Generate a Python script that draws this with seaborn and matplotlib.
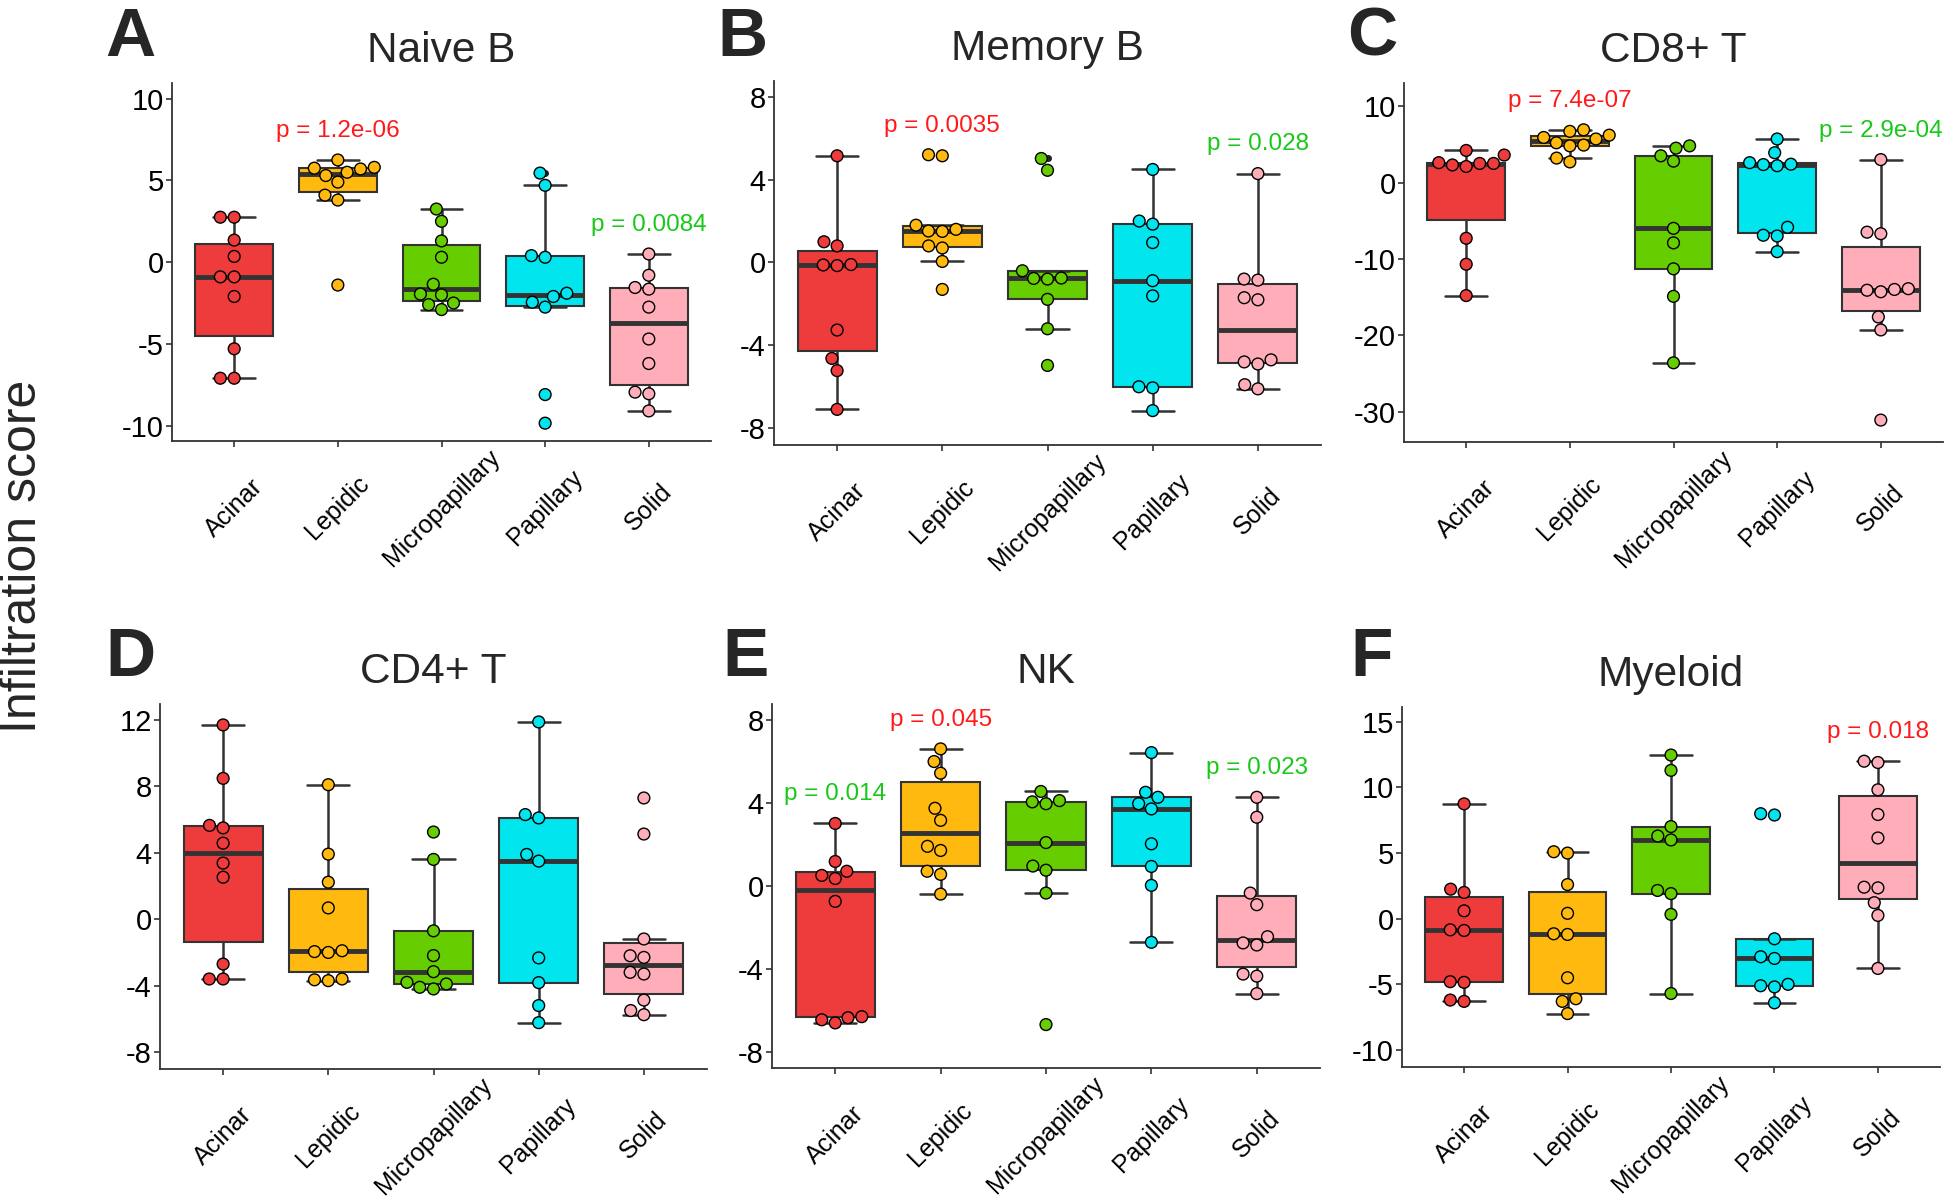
import numpy as np
import pandas as pd
import matplotlib
matplotlib.use("Agg")
import matplotlib.pyplot as plt
import seaborn as sns

# Histological subtypes (x axis of every panel)
subtypes = ["Acinar", "Lepidic", "Micropapillary", "Papillary", "Solid"]
cell_types = ["Naive B", "Memory B", "CD8+ T", "CD4+ T", "NK", "Myeloid"]
panel_letters = ["A", "B", "C", "D", "E", "F"]

# Infiltration scores per subtype (Acinar, Lepidic, Micropapillary, Papillary, Solid)
naive_b = [
    [-7.1, -7.1, -5.3, -2.1, -0.9, -0.9, 0.35, 1.35, 2.75, 2.75],
    [-1.4, 3.8, 4.1, 4.9, 5.3, 5.5, 5.7, 5.75, 5.8, 6.25],
    [-2.9, -2.6, -2.5, -2.0, -1.95, -1.35, 0.3, 1.3, 2.5, 3.25],
    [-9.85, -8.1, -2.75, -2.45, -2.1, -1.9, 0.3, 0.4, 4.7, 5.45],
    [-9.1, -8.05, -7.95, -6.2, -4.7, -2.75, -1.65, -1.55, -0.8, 0.5],
]
memory_b = [
    [-7.09, -5.22, -4.63, -3.26, -0.15, -0.12, -0.1, 0.8, 1.0, 5.15],
    [-1.3, 0.05, 0.7, 0.8, 1.5, 1.52, 1.6, 1.8, 5.15, 5.2],
    [-4.97, -3.2, -1.78, -0.8, -0.77, -0.75, -0.4, 4.45, 5.02],
    [-7.15, -6.05, -6.0, -1.61, -0.88, 0.96, 1.85, 2.0, 4.49],
    [-6.1, -5.9, -4.9, -4.8, -4.7, -1.8, -1.7, -0.85, -0.8, 4.29],
]
cd8_t = [
    [-14.8, -10.7, -7.3, 2.1, 2.3, 2.5, 2.5, 2.6, 3.6, 4.2],
    [2.7, 3.2, 4.8, 4.9, 5.2, 5.7, 5.9, 6.2, 6.7, 6.9],
    [-23.6, -14.9, -11.3, -7.9, -6.0, 2.8, 3.5, 4.5, 4.8],
    [-9.05, -7.0, -6.9, -5.86, 2.2, 2.35, 2.4, 2.6, 3.9, 5.7],
    [-31.1, -19.3, -17.6, -14.3, -14.1, -14.0, -13.9, -6.7, -6.5, 3.0],
]
cd4_t = [
    [-3.6, -3.6, -2.7, 2.53, 3.38, 4.58, 5.5, 5.65, 8.48, 11.7],
    [-3.7, -3.65, -3.6, -2.0, -1.95, -1.9, 0.68, 2.23, 3.92, 8.1],
    [-4.2, -4.1, -3.9, -3.8, -3.16, -2.19, -0.7, 3.6, 5.25],
    [-6.23, -5.2, -3.82, -2.33, 3.5, 3.9, 6.1, 6.3, 11.88],
    [-5.75, -5.5, -4.87, -3.3, -3.2, -2.3, -2.2, -1.19, 5.13, 7.3],
]
nk = [
    [-6.6, -6.45, -6.35, -6.3, -0.75, 0.35, 0.5, 0.7, 1.17, 3.0],
    [-0.4, 0.55, 0.7, 1.7, 1.9, 3.15, 3.73, 5.42, 5.98, 6.59],
    [-6.68, -0.35, 0.75, 0.95, 2.08, 3.95, 4.04, 4.1, 4.54],
    [-2.72, 0.02, 0.93, 2.02, 3.7, 3.95, 4.26, 4.5, 6.41],
    [-5.19, -4.35, -4.25, -2.85, -2.75, -2.45, -0.91, -0.35, 3.3, 4.26],
]
myeloid = [
    [-6.3, -6.2, -4.85, -4.8, -0.9, -0.85, 0.6, 2.0, 2.25, 8.75],
    [-7.23, -6.3, -6.1, -4.5, -1.2, -1.15, 0.41, 2.6, 5.0, 5.1],
    [-5.7, 0.33, 1.91, 2.15, 6.0, 6.3, 7.02, 11.3, 12.47],
    [-6.41, -5.2, -5.11, -5.0, -3.03, -2.9, -1.53, 7.9, 8.0],
    [-3.79, 0.25, 1.22, 2.35, 2.4, 6.15, 7.94, 9.82, 11.9, 12.0],
]
scores = [naive_b, memory_b, cd8_t, cd4_t, nk, myeloid]

# p-value labels: (subtype, text, direction)
naive_b_p = [("Lepidic", "p = 1.2e-06", "up"), ("Solid", "p = 0.0084", "down")]
memory_b_p = [("Lepidic", "p = 0.0035", "up"), ("Solid", "p = 0.028", "down")]
cd8_t_p = [("Lepidic", "p = 7.4e-07", "up"), ("Solid", "p = 2.9e-04", "down")]
cd4_t_p = []
nk_p = [("Acinar", "p = 0.014", "down"), ("Lepidic", "p = 0.045", "up"),
        ("Solid", "p = 0.023", "down")]
myeloid_p = [("Solid", "p = 0.018", "up")]
pvals = [naive_b_p, memory_b_p, cd8_t_p, cd4_t_p, nk_p, myeloid_p]

# axis ranges and ticks
ylims = [(-10.94, 10.96), (-8.81, 8.76), (-33.97, 13.03),
         (-9.02, 12.96), (-8.77, 8.75), (-11.3, 16.13)]
yticks = [[-10, -5, 0, 5, 10], [-8, -4, 0, 4, 8], [-30, -20, -10, 0, 10],
          [-8, -4, 0, 4, 8, 12], [-8, -4, 0, 4, 8], [-10, -5, 0, 5, 10, 15]]

palette = {"Acinar": "#EE3B3B", "Lepidic": "#FFB90F", "Micropapillary": "#66CD00",
           "Papillary": "#00E5EE", "Solid": "#FFAEB9"}
p_colors = {"up": "#FF1A1A", "down": "#19C819"}
line_col = "#333333"

sns.set_theme(style="white")
plt.rcParams["font.family"] = ["Liberation Sans", "DejaVu Sans"]
plt.rcParams["axes.unicode_minus"] = False

W, H = 1946, 1204
fig = plt.figure(figsize=(W / 100, H / 100), dpi=100)

# axes boxes in pixels: left, top, right, bottom
boxes_px = [(172, 83, 711, 441), (774, 81, 1321, 445), (1404, 83, 1943, 442),
            (160, 704, 707, 1069), (772, 704, 1320, 1068), (1402, 707, 1940, 1067)]
letter_px = [(105, 56), (717, 56), (1347, 56), (105, 676), (722, 676), (1350, 676)]

for i in range(6):
    l, t, r, b = boxes_px[i]
    ax = fig.add_axes([l / W, 1 - b / H, (r - l) / W, (b - t) / H])
    vals = scores[i]
    df = pd.DataFrame({
        "subtype": np.repeat(subtypes, [len(v) for v in vals]),
        "score": np.concatenate(vals),
    })
    sns.boxplot(data=df, x="subtype", y="score", hue="subtype", order=subtypes,
                hue_order=subtypes, palette=palette, saturation=1, width=0.75,
                linewidth=1.5, linecolor=line_col, legend=False, ax=ax,
                medianprops=dict(linewidth=3.5, color=line_col),
                whiskerprops=dict(linewidth=1.8, color=line_col),
                capprops=dict(linewidth=1.8, color=line_col),
                flierprops=dict(marker="o", markersize=4, markerfacecolor="#222222",
                                markeredgecolor="#222222"))
    for cont in ax.containers:
        if hasattr(cont, "caps"):
            for cap in cont.caps:
                xd = np.asarray(cap.get_xdata(), dtype=float)
                c = xd.mean()
                cap.set_xdata([c - 0.2, c + 0.2])
    sns.swarmplot(data=df, x="subtype", y="score", hue="subtype", order=subtypes,
                  hue_order=subtypes, palette=palette, size=8.5, edgecolor="black",
                  linewidth=1, legend=False, ax=ax, zorder=3)

    ax.set_xlim(-0.6, 4.6)
    ax.set_ylim(*ylims[i])
    ax.set_yticks(yticks[i])
    ax.set_yticklabels([str(v) for v in yticks[i]], fontsize=21, color="black")
    ax.set_xticks(range(len(subtypes)))
    ax.set_xticklabels(subtypes, fontsize=18, rotation=45, ha="center",
                       va="center", rotation_mode="anchor", color="black")
    ax.tick_params(axis="x", length=4, width=1.2, color=line_col, pad=44, bottom=True)
    ax.tick_params(axis="y", length=4, width=1.2, color=line_col, pad=2, left=True)
    ax.set_xlabel("")
    ax.set_ylabel("")
    for side in ["top", "right"]:
        ax.spines[side].set_visible(False)
    for side in ["left", "bottom"]:
        ax.spines[side].set_color(line_col)
        ax.spines[side].set_linewidth(1.3)

    yr = ylims[i][1] - ylims[i][0]
    for sub, txt, direction in pvals[i]:
        k = subtypes.index(sub)
        ax.text(k, max(vals[k]) + 0.08 * yr, txt, ha="center", va="center",
                fontsize=17.5, color=p_colors[direction])

    fig.text((l + r) / 2 / W, 1 - (t - 21) / H, cell_types[i], ha="center",
             va="baseline", fontsize=30.5)
    lx, ly = letter_px[i]
    fig.text(lx / W, 1 - ly / H, panel_letters[i], ha="left", va="baseline",
             fontsize=50, fontweight="bold")

fig.text(23 / W, 1 - 556 / H, "Infiltration score", rotation=90, ha="center",
         va="center", fontsize=36)

fig.savefig("out.png", dpi=100)
